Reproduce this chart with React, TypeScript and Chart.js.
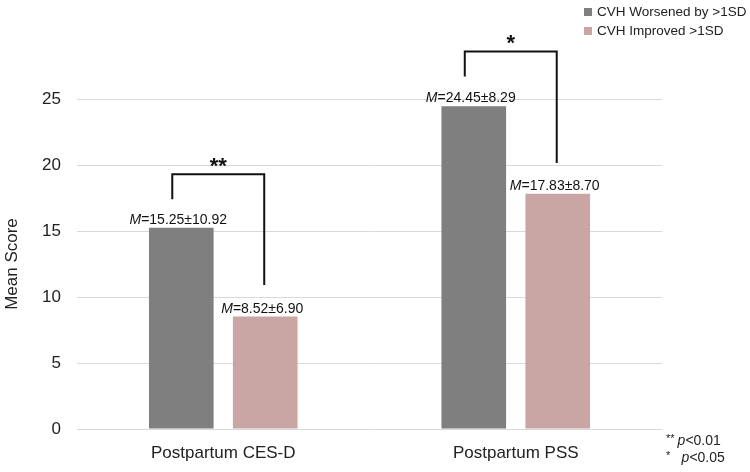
import React, { useEffect, useRef } from "react";
import { Chart, registerables } from "chart.js";

Chart.register(...registerables);

const categories = ["Postpartum CES-D", "Postpartum PSS"];
const seriesNames = ["CVH Worsened by >1SD", "CVH Improved >1SD"];
const worsened = [15.25, 24.45];
const improved = [8.52, 17.83];
const worsenedSD = ["10.92", "8.29"];
const improvedSD = ["6.90", "8.70"];
const seriesColors = ["#7f7f7f", "#c9a6a3"];
const yTicks = [0, 5, 10, 15, 20, 25];
// significance brackets: [top, leftBottom, rightBottom] in data units
const bracketTop = [19.3, 28.6];
const bracketLeftBottom = [17.4, 26.7];
const bracketRightBottom = [10.9, 20.15];
const bracketStars = ["**", "*"];
const footnotes = [["**", "p<0.01"], ["*", " p<0.05"]];

const FONT = "'Liberation Sans', Arial, sans-serif";

const overlayPlugin = {
  id: "overlay",
  afterDatasetsDraw(chart: any) {
    const ctx = chart.ctx as CanvasRenderingContext2D;
    const y = chart.scales.y;
    const sds = [worsenedSD, improvedSD];
    const vals = [worsened, improved];
    ctx.save();
    // value labels
    for (let d = 0; d < 2; d++) {
      const meta = chart.getDatasetMeta(d);
      meta.data.forEach((bar: any, i: number) => {
        ctx.font = `italic 14px ${FONT}`;
        const mW = ctx.measureText("M").width;
        ctx.font = `14px ${FONT}`;
        const rest = `=${vals[d][i].toFixed(2)}±${sds[d][i]}`;
        const rW = ctx.measureText(rest).width;
        const total = mW + rW;
        const x0 = bar.x - total / 2 - 3;
        const by = bar.y - 4;
        ctx.fillStyle = "#111";
        ctx.textBaseline = "alphabetic";
        ctx.textAlign = "left";
        ctx.font = `italic 14px ${FONT}`;
        ctx.fillText("M", x0, by);
        ctx.font = `14px ${FONT}`;
        ctx.fillText(rest, x0 + mW, by);
      });
    }
    // brackets
    const m0 = chart.getDatasetMeta(0);
    const m1 = chart.getDatasetMeta(1);
    ctx.strokeStyle = "#111";
    ctx.lineWidth = 2;
    for (let i = 0; i < categories.length; i++) {
      const xl = m0.data[i].x - 9;
      const xr = m1.data[i].x - 1;
      const yt = y.getPixelForValue(bracketTop[i]);
      const yl = y.getPixelForValue(bracketLeftBottom[i]);
      const yr = y.getPixelForValue(bracketRightBottom[i]);
      ctx.beginPath();
      ctx.moveTo(xl, yl);
      ctx.lineTo(xl, yt);
      ctx.lineTo(xr, yt);
      ctx.lineTo(xr, yr);
      ctx.stroke();
      ctx.fillStyle = "#111";
      ctx.font = `bold 22px ${FONT}`;
      ctx.textAlign = "center";
      ctx.textBaseline = "alphabetic";
      ctx.fillText(bracketStars[i], (xl + xr) / 2, yt - 1);
    }
    // legend
    ctx.textAlign = "left";
    ctx.textBaseline = "middle";
    ctx.font = `13.5px ${FONT}`;
    seriesNames.forEach((n, i) => {
      const ly = 12 + i * 19;
      ctx.fillStyle = seriesColors[i];
      ctx.fillRect(584, ly - 4, 8, 8);
      ctx.fillStyle = "#222";
      ctx.fillText(n, 597, ly);
    });
    // footnotes
    footnotes.forEach((f, i) => {
      const fy = 441 + i * 17;
      ctx.font = `11px ${FONT}`;
      ctx.fillStyle = "#222";
      ctx.textAlign = "left";
      ctx.fillText(f[0], 666, fy - 2);
      const w = ctx.measureText("** ").width;
      ctx.font = `italic 14px ${FONT}`;
      const pW = ctx.measureText(f[1].trimStart().charAt(0)).width;
      const off = f[1].startsWith(" ") ? 4 : 0;
      ctx.fillText("p", 666 + w + off, fy);
      ctx.font = `14px ${FONT}`;
      ctx.fillText(f[1].trimStart().slice(1), 666 + w + off + pW, fy);
    });
    ctx.restore();
  },
};

export default function App() {
  const ref = useRef<HTMLCanvasElement>(null);
  useEffect(() => {
    document.body.style.margin = "0";
    const chart = new Chart(ref.current!, {
      type: "bar",
      data: {
        labels: categories,
        datasets: [
          { label: seriesNames[0], data: worsened, backgroundColor: seriesColors[0] },
          { label: seriesNames[1], data: improved, backgroundColor: seriesColors[1] },
        ],
      },
      options: {
        animation: false,
        responsive: false,
        maintainAspectRatio: false,
        layout: { padding: { left: 0, top: 99, right: 88, bottom: 0 } },
        datasets: { bar: { categoryPercentage: 0.574, barPercentage: 0.77 } },
        plugins: { legend: { display: false }, tooltip: { enabled: false } },
        scales: {
          x: {
            grid: { display: false },
            border: { display: false },
            ticks: { color: "#222", font: { size: 17, family: FONT }, padding: 6 },
            afterFit(s: any) { s.height = 43; },
          },
          y: {
            min: 0,
            max: 25,
            afterBuildTicks(s: any) { s.ticks = yTicks.map((v) => ({ value: v })); },
            grid: { color: "#d9d9d9", lineWidth: 1, drawTicks: false },
            border: { display: false },
            ticks: { color: "#222", font: { size: 17, family: FONT }, padding: 16 },
            title: { display: true, text: "Mean Score", color: "#222", font: { size: 17, family: FONT }, padding: { top: 2, bottom: 0 } },
            afterFit(s: any) { s.width = 77; },
          },
        },
      },
      plugins: [overlayPlugin],
    });
    return () => chart.destroy();
  }, []);
  return <canvas ref={ref} width={750} height={472} style={{ display: "block" }} />;
}
